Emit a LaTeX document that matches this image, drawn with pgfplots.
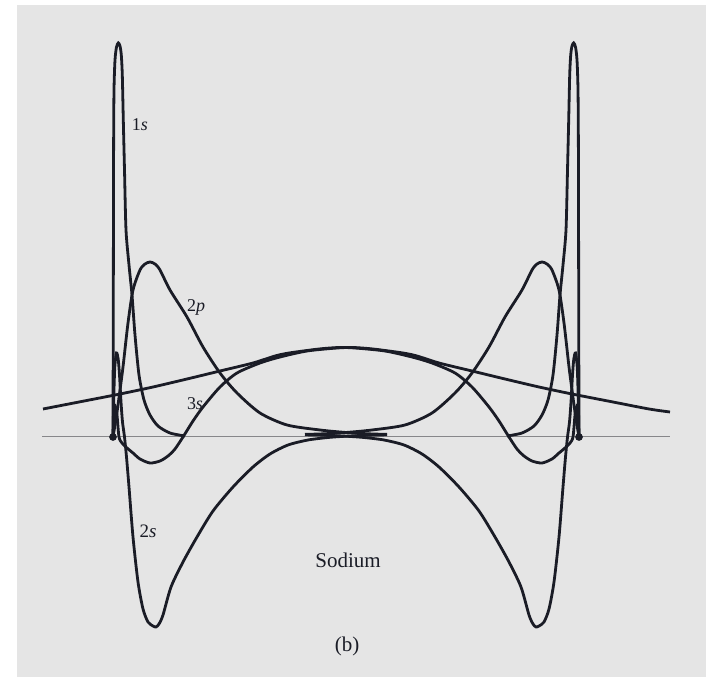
\documentclass[border=0pt]{standalone}
\usepackage{pgfplots}
\pgfplotsset{compat=1.18}
\usepackage{pgfplotstable}
\usepackage{fontspec}
\setmainfont{Liberation Serif}

\definecolor{paper}{RGB}{229,229,229}
\definecolor{ink}{RGB}{26,28,38}
\definecolor{zeroline}{RGB}{135,135,138}

% Radial functions of one sodium atom: r = distance from the nucleus,
% a = amplitude (same units). The second atom sits at r = 466.
\pgfplotstableread{
r a
0 0
0.3 137
0.6 287
1 347
2 377
3.5 390
5.3 394
7 391
8.3 382
9.3 362
10.3 317
11.5 267
13 207
16 172
19 142
22 102
26 62
31 37
37 22
45 11
57 4
72 1
}\orbOneS

\pgfplotstableread{
r a
0 0
0.8 40
1.8 70
3.5 84
5.2 78
6.5 62
8 35
9.5 15
11.5 0
13.5 -20
16 -50
20 -100
25 -145
30 -172
35 -185
40 -189
43 -190
46 -187
50 -178
58 -150
70 -125
84 -100
100 -74
120 -50
140 -30
157 -17
175 -8
195 -3
215 -0.5
233 0.8
255 1.8
274 2.2
}\orbTwoS

\pgfplotstableread{
r a
0 0
3 18
5 32
7 47
10 70
15 114
20 147
27 167
32 173
37 175
42 173
47 167
57 147
74 120
90 90
107 64
124 44
147 24
174 12
207 7
233 4.5
255 3.2
274 2.6
}\orbTwoP

\pgfplotstableread{
r a
0 0
1.2 22
2.5 30
4 22
6 0
9 -6
14 -11
20 -16
27 -22
37 -26
47 -24
55 -19
62 -12
70 0
80 16
90 30
107 50
124 64
147 74
167 80
194 86
224 89
240 89.5
260 88
290 84
304 81
326 74
359 66
392 58
426 50
459 43
500 35
536 28
557 25
}\orbThreeS

\begin{document}
\begin{tikzpicture}
\begin{axis}[
  width=706pt, height=677pt, scale only axis,
  xmin=-113, xmax=593, ymin=-240, ymax=437,
  hide axis, clip=false,
  orbital/.style={ink, line width=2.8pt, smooth, tension=0.45},
]
% page and scanned paper tone
\fill[white] (axis cs:-113,-240) rectangle (axis cs:593,437);
\fill[paper] (axis cs:-96,-240) rectangle (axis cs:593,432);

% internuclear axis
\addplot[zeroline, line width=1pt] coordinates {(-71,0) (557,0)};

% left atom (nucleus at 0)
\addplot[orbital] table[x=r, y=a] {\orbOneS};
\addplot[orbital] table[x=r, y=a] {\orbTwoS};
\addplot[orbital] table[x=r, y=a] {\orbTwoP};
\addplot[orbital] table[x=r, y=a] {\orbThreeS};

% right atom (nucleus at 466), same functions running leftwards
\addplot[orbital] table[x expr=466-\thisrow{r}, y=a] {\orbOneS};
\addplot[orbital] table[x expr=466-\thisrow{r}, y=a] {\orbTwoS};
\addplot[orbital] table[x expr=466-\thisrow{r}, y=a] {\orbTwoP};
\addplot[orbital, restrict x to domain=-71:600] table[x expr=466-\thisrow{r}, y=a] {\orbThreeS};

% nuclei
\addplot[only marks, mark=*, mark size=3.6pt, ink] coordinates {(0,0) (466,0)};

% labels
\node[ink, font=\fontsize{18}{20}\selectfont] at (axis cs:27,312) {1\textit{s}};
\node[ink, font=\fontsize{18}{20}\selectfont] at (axis cs:83,130) {2\textit{p}};
\node[ink, font=\fontsize{18}{20}\selectfont] at (axis cs:82,33) {3\textit{s}};
\node[ink, font=\fontsize{19}{21}\selectfont] at (axis cs:35,-94) {2\textit{s}};
\node[ink, font=\fontsize{21}{24}\selectfont] at (axis cs:235,-123) {Sodium};
\node[ink, font=\fontsize{21}{24}\selectfont] at (axis cs:234,-209) {(b)};
\end{axis}
\end{tikzpicture}
\end{document}
